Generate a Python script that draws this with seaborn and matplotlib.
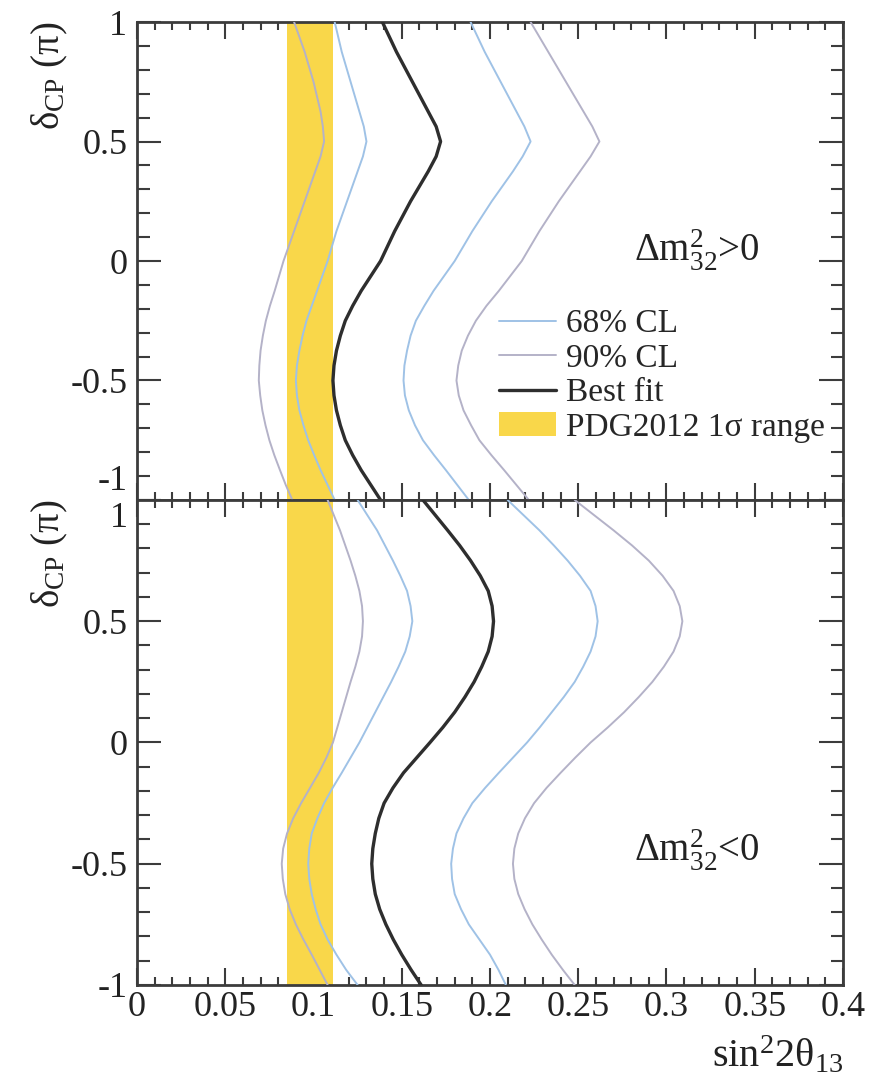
import matplotlib
matplotlib.use("Agg")
import matplotlib.pyplot as plt
import seaborn as sns
from matplotlib.lines import Line2D
from matplotlib.patches import Patch
from matplotlib.ticker import MultipleLocator, FuncFormatter

# ---------------- data ----------------
delta_cp = [-1.0, -0.9375, -0.875, -0.8125, -0.75, -0.6875, -0.625, -0.5625,
            -0.5, -0.4375, -0.375, -0.3125, -0.25, -0.1875, -0.125, -0.0625,
            0.0, 0.0625, 0.125, 0.1875, 0.25, 0.3125, 0.375, 0.4375,
            0.5, 0.5625, 0.625, 0.6875, 0.75, 0.8125, 0.875, 0.9375, 1.0]

# normal hierarchy (top panel)
nh_best = [0.138, 0.1325, 0.127, 0.1222, 0.118, 0.1152, 0.113, 0.1116,
           0.111, 0.1116, 0.113, 0.1152, 0.118, 0.1222, 0.127, 0.1325,
           0.138, 0.142, 0.146, 0.1505, 0.155, 0.160, 0.165, 0.1695,
           0.172, 0.1695, 0.165, 0.1605, 0.156, 0.1515, 0.147, 0.143, 0.139]
nh_68_lo = [0.112, 0.108, 0.104, 0.1004, 0.097, 0.0943, 0.092, 0.0906,
            0.090, 0.0906, 0.092, 0.0938, 0.096, 0.099, 0.102, 0.105,
            0.108, 0.1105, 0.113, 0.116, 0.119, 0.122, 0.125, 0.128,
            0.130, 0.1285, 0.126, 0.1235, 0.121, 0.1185, 0.116, 0.114, 0.112]
nh_68_hi = [0.188, 0.1815, 0.175, 0.1683, 0.162, 0.1575, 0.154, 0.1518,
            0.151, 0.1515, 0.153, 0.155, 0.158, 0.1628, 0.168, 0.174,
            0.180, 0.185, 0.190, 0.1955, 0.201, 0.207, 0.213, 0.2185,
            0.223, 0.2195, 0.215, 0.2105, 0.206, 0.2015, 0.197, 0.193, 0.189]
nh_90_lo = [0.088, 0.0843, 0.081, 0.0778, 0.075, 0.0728, 0.071, 0.0698,
            0.069, 0.0693, 0.070, 0.0713, 0.073, 0.0753, 0.078, 0.0805,
            0.083, 0.086, 0.089, 0.092, 0.095, 0.098, 0.101, 0.104,
            0.106, 0.1053, 0.104, 0.102, 0.100, 0.0975, 0.095, 0.092, 0.089]
nh_90_hi = [0.222, 0.215, 0.208, 0.2008, 0.194, 0.1893, 0.185, 0.1823,
            0.181, 0.182, 0.184, 0.1875, 0.192, 0.198, 0.205, 0.2115,
            0.218, 0.223, 0.228, 0.2335, 0.239, 0.245, 0.251, 0.257,
            0.262, 0.258, 0.253, 0.248, 0.243, 0.238, 0.233, 0.228, 0.223]

# inverted hierarchy (bottom panel)
ih_best = [0.161, 0.1553, 0.150, 0.1452, 0.141, 0.1375, 0.135, 0.1336,
           0.133, 0.1336, 0.135, 0.137, 0.140, 0.145, 0.151, 0.1585,
           0.166, 0.1733, 0.180, 0.1858, 0.191, 0.1953, 0.199, 0.2012,
           0.202, 0.2012, 0.199, 0.1945, 0.189, 0.1828, 0.176, 0.169, 0.162]
ih_68_lo = [0.125, 0.1185, 0.113, 0.108, 0.104, 0.1012, 0.099, 0.0976,
            0.097, 0.0976, 0.099, 0.1022, 0.106, 0.1108, 0.116, 0.121,
            0.126, 0.1305, 0.135, 0.1395, 0.144, 0.1482, 0.152, 0.1545,
            0.156, 0.155, 0.153, 0.1492, 0.145, 0.1405, 0.136, 0.1305, 0.125]
ih_68_hi = [0.209, 0.2048, 0.200, 0.194, 0.188, 0.1836, 0.180, 0.1785,
            0.178, 0.179, 0.181, 0.185, 0.190, 0.1972, 0.205, 0.213,
            0.221, 0.2282, 0.235, 0.2418, 0.248, 0.2528, 0.257, 0.2598,
            0.261, 0.2598, 0.257, 0.251, 0.244, 0.2362, 0.228, 0.219, 0.210]
ih_90_lo = [0.108, 0.1035, 0.099, 0.0943, 0.090, 0.0865, 0.084, 0.0826,
            0.082, 0.0828, 0.085, 0.0885, 0.093, 0.098, 0.103, 0.1073,
            0.111, 0.1135, 0.116, 0.1185, 0.121, 0.1237, 0.126, 0.1275,
            0.128, 0.1275, 0.126, 0.1237, 0.121, 0.118, 0.115, 0.1115, 0.108]
ih_90_hi = [0.248, 0.2413, 0.235, 0.2293, 0.224, 0.2196, 0.216, 0.2138,
            0.213, 0.2138, 0.216, 0.2198, 0.225, 0.232, 0.240, 0.2483,
            0.257, 0.2668, 0.276, 0.2843, 0.292, 0.2985, 0.304, 0.3075,
            0.309, 0.3075, 0.304, 0.2978, 0.290, 0.2805, 0.270, 0.259, 0.248]

pdg_range = [0.085, 0.111]

legend_labels = ["68% CL", "90% CL", "Best fit", "PDG2012 1σ range"]

# ---------------- style ----------------
sns.set_theme(style="white")
plt.rcParams["font.family"] = ["Liberation Serif", "DejaVu Serif"]
plt.rcParams["mathtext.default"] = "regular"

C68 = "#9fc2e6"
C90 = "#b4b2c8"
CBEST = "#2e2e2e"
CPDG = "#f9d74a"
SPINE = "#3c3c3c"
TXT = "#222222"

fig = plt.figure(figsize=(8.75, 10.84), dpi=100)
ax1 = fig.add_axes([0.1566, 0.53875, 0.8068, 0.44095])
ax2 = fig.add_axes([0.1566, 0.09133, 0.8068, 0.44742])


def draw(ax, best, lo68, hi68, lo90, hi90, hide):
    ax.axvspan(pdg_range[0], pdg_range[1], color=CPDG, lw=0, zorder=1)
    for vals in (lo90, hi90):
        sns.lineplot(x=vals, y=delta_cp, orient="y", ax=ax, color=C90,
                     lw=1.4, zorder=3, legend=False)
    for vals in (lo68, hi68):
        sns.lineplot(x=vals, y=delta_cp, orient="y", ax=ax, color=C68,
                     lw=1.4, zorder=3, legend=False)
    sns.lineplot(x=best, y=delta_cp, orient="y", ax=ax, color=CBEST,
                 lw=2.4, zorder=4, legend=False)

    ax.set_xlim(0, 0.4)
    ax.set_ylim(-1, 1)
    ax.set_xlabel("")
    ax.set_ylabel("")
    ax.xaxis.set_major_locator(MultipleLocator(0.05))
    ax.xaxis.set_minor_locator(MultipleLocator(0.01))
    ax.yaxis.set_major_locator(MultipleLocator(0.5))
    ax.yaxis.set_minor_locator(MultipleLocator(0.1))
    ax.xaxis.set_major_formatter(FuncFormatter(lambda v, p: f"{v:g}"))
    ax.yaxis.set_major_formatter(
        FuncFormatter(lambda v, p: "" if abs(v - hide) < 1e-9 else f"{v:g}"))
    ax.tick_params(axis="both", which="both", direction="in", top=True,
                   right=True, bottom=True, left=True, color=SPINE,
                   labelsize=26, labelcolor=TXT, width=1.5)
    ax.tick_params(axis="y", which="major", length=17, pad=7)
    ax.tick_params(axis="y", which="minor", length=9)
    ax.tick_params(axis="x", which="major", length=12, pad=4)
    ax.tick_params(axis="x", which="minor", length=6)
    for s in ax.spines.values():
        s.set_color(SPINE)
        s.set_linewidth(2.0)
        s.set_visible(True)
    ax.text(-0.123, 1.0, "δ$_{CP}$ (π)", transform=ax.transAxes,
            rotation=90, ha="center", va="top", fontsize=28, color=TXT)


draw(ax1, nh_best, nh_68_lo, nh_68_hi, nh_90_lo, nh_90_hi, hide=-1)
draw(ax2, ih_best, ih_68_lo, ih_68_hi, ih_90_lo, ih_90_hi, hide=1)
ax1.tick_params(axis="x", labelbottom=False)

# the two labels that meet at the panel border
ax1.text(-0.0135, 0.004, "-1", transform=ax1.transAxes, ha="right",
         va="bottom", fontsize=26, color=TXT)
ax2.text(-0.0135, 0.996, "1", transform=ax2.transAxes, ha="right",
         va="top", fontsize=26, color=TXT)

ax1.text(0.317, 0.046, "Δm$^{2}_{32}$>0", ha="center", va="center",
         fontsize=28, color=TXT)
ax2.text(0.317, -0.445, "Δm$^{2}_{32}$<0", ha="center", va="center",
         fontsize=28, color=TXT)

handles = [Line2D([], [], color=C68, lw=1.4),
           Line2D([], [], color=C90, lw=1.4),
           Line2D([], [], color=CBEST, lw=2.4),
           Patch(facecolor=CPDG, edgecolor="none")]
ax1.legend(handles, legend_labels, loc="upper left",
           bbox_to_anchor=(0.513, 0.40), frameon=False, fontsize=24,
           handlelength=1.7, handletextpad=0.3, labelspacing=0.12,
           borderpad=0.0, borderaxespad=0.0)

ax2.text(1.0, -0.146, "sin$^{2}$2θ$_{13}$", transform=ax2.transAxes,
         ha="right", va="center", fontsize=29, color=TXT)

fig.savefig("out.png", dpi=100)
